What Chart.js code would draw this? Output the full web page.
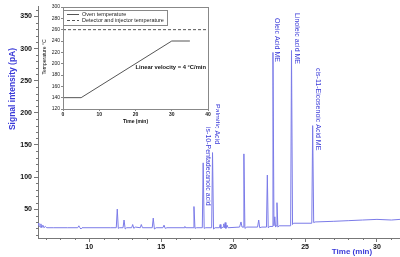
<!DOCTYPE html>
<html>
<head>
<meta charset="utf-8">
<script src="https://cdn.jsdelivr.net/npm/chart.js@4"></script>
<style>
  body { margin: 0; background: #fff; }
  #wrap { position: relative; width: 400px; height: 257px; }
  #mainChart { position: absolute; left: 0; top: 0; }
  #insetChart { position: absolute; left: 40px; top: 0; background: #fff; }
</style>
</head>
<body>
<div id="wrap">
  <canvas id="mainChart" width="400" height="257"></canvas>
  <canvas id="insetChart" width="176" height="127"></canvas>
</div>
<script>
// chromatogram (time in min, signal in pA)
const times = [6.44, 6.5, 6.58, 6.64, 6.7, 6.78, 6.85, 6.95, 7.05, 7.5, 8.5, 9.2, 9.28, 9.35, 9.42, 9.5,
  11.5, 11.88, 11.95, 12.02, 12.1, 12.35, 12.42, 12.5, 12.6, 12.95, 13.02, 13.1, 13.2, 13.55, 13.62, 13.7,
  14.38, 14.45, 14.53, 14.65, 15.12, 15.2, 15.28, 15.4, 16.6, 16.65, 16.7, 17.22, 17.28, 17.35, 17.45,
  17.86, 17.92, 17.99, 18.1, 18.51, 18.57, 18.64, 18.75, 19.05, 19.1, 19.15, 19.3, 19.35, 19.4, 19.45,
  19.5, 19.58, 19.65, 20.45, 20.55, 20.62, 20.69, 20.75, 20.82, 20.95, 21.7, 21.78, 21.85, 22.0, 22.32,
  22.38, 22.44, 22.55, 22.71, 22.77, 22.84, 22.9, 22.95, 23.0, 23.05, 23.11, 23.2, 24.0, 24.06, 24.13,
  24.2, 25.47, 25.53, 25.6, 25.7, 27.0, 28.0, 29.0, 30.0, 31.0, 31.6];
const signal = [28, 25, 22, 27, 21, 25, 21, 23, 21, 21, 21, 21, 24, 21, 19, 21,
  21, 21, 50, 20, 21, 21, 33, 19, 21, 21, 26, 20, 22, 21, 26, 21,
  21, 36, 19, 21, 21, 25, 20, 21, 21, 23, 21, 21, 54, 20, 21,
  21, 122, 20, 21, 21, 138, 19, 21, 21, 26, 20, 22, 27, 21, 29,
  20, 25, 21, 22, 30, 22, 22, 136, 20, 22, 22, 33, 21, 22, 22,
  103, 21, 23, 23, 294, 24, 38, 22, 24, 60, 22, 24, 24, 297, 26,
  28, 28, 180, 29, 30, 31, 32, 33, 34, 33, 34];
const xTicks = [10, 15, 20, 25, 30];
const yTicks = [50, 100, 150, 200, 250, 300, 350];
const peakNames = ['Cis-10-Pentadecanoic acid', 'Palmitic Acid', 'Oleic Acid ME', 'Linoleic acid ME', 'cis-11-Eicosenoic Acid ME'];
const peakTimes = [17.92, 18.57, 22.77, 24.06, 25.53];

// inset: temperature programme
const ovenTime = [0, 5, 30, 35];
const ovenTemp = [140, 140, 240, 240];
const detTime = [0, 40];
const detTemp = [260, 260];
const insetXTicks = [0, 10, 20, 30, 40];
const insetYTicks = [120, 140, 160, 180, 200, 220, 240, 260, 280, 300];

const FONT = 'Liberation Sans, Arial, sans-serif';
const BLUE = '#3a3ad8';

// where each peak label sits (pixel offset right of the peak, pixel top)
const labelPlace = [
  { dx: 5, top: 122 },
  { dx: 4, top: 104 },
  { dx: 4, top: 18 },
  { dx: 5, top: 13 },
  { dx: 5, top: 68 }
];

const mainDecor = {
  id: 'mainDecor',
  afterDraw(chart) {
    const ctx = chart.ctx;
    const xs = chart.scales.x, ys = chart.scales.y;
    const area = chart.chartArea;
    ctx.save();
    // minor ticks
    ctx.strokeStyle = '#777';
    ctx.lineWidth = 1;
    ctx.beginPath();
    for (let v = 10; v <= 360; v += 10) {
      if (v % 50 === 0) continue;
      const py = Math.round(ys.getPixelForValue(v)) + 0.5;
      ctx.moveTo(area.left - 2, py);
      ctx.lineTo(area.left, py);
    }
    for (let t = 7; t <= 31; t++) {
      if (t % 5 === 0) continue;
      const px = Math.round(xs.getPixelForValue(t)) + 0.5;
      ctx.moveTo(px, area.bottom);
      ctx.lineTo(px, area.bottom + 2);
    }
    ctx.stroke();

    // peak labels
    ctx.fillStyle = BLUE;
    ctx.font = '7px ' + FONT;
    ctx.textAlign = 'left';
    ctx.textBaseline = 'middle';
    peakNames.forEach((name, i) => {
      const px = xs.getPixelForValue(peakTimes[i]) + labelPlace[i].dx;
      ctx.save();
      ctx.translate(px, labelPlace[i].top);
      ctx.rotate(Math.PI / 2);
      ctx.fillText(name, 0, 0);
      ctx.restore();
    });

    // axis titles
    ctx.font = 'bold 8px ' + FONT;
    ctx.textAlign = 'center';
    ctx.fillText('Time (min)', 352, 252);
    ctx.save();
    ctx.translate(13, 89);
    ctx.rotate(-Math.PI / 2);
    ctx.font = 'bold 8.5px ' + FONT;
    ctx.fillText('Signal intensity (pA)', 0, 0);
    ctx.restore();
    ctx.restore();
  }
};

new Chart(document.getElementById('mainChart'), {
  type: 'line',
  data: {
    datasets: [{
      data: times.map((t, i) => ({ x: t, y: signal[i] })),
      borderColor: '#7b7be8',
      borderWidth: 1,
      pointRadius: 0,
      tension: 0
    }]
  },
  options: {
    responsive: false,
    animation: false,
    layout: { padding: 0 },
    plugins: { legend: { display: false }, tooltip: { enabled: false } },
    scales: {
      x: {
        type: 'linear',
        min: 6.44,
        max: 31.6,
        afterBuildTicks: (s) => { s.ticks = xTicks.map(v => ({ value: v })); },
        afterFit: (s) => { s.height = 19; },
        grid: { drawOnChartArea: false, tickLength: 4, color: '#777' },
        border: { color: '#777' },
        ticks: { font: { family: FONT, size: 7, weight: 'bold' }, color: '#111', padding: 1, maxRotation: 0 }
      },
      y: {
        min: 5,
        max: 366,
        afterBuildTicks: (s) => { s.ticks = yTicks.map(v => ({ value: v })); },
        afterFit: (s) => { s.width = 38; },
        grid: { drawOnChartArea: false, tickLength: 4, color: '#777' },
        border: { color: '#777' },
        ticks: { font: { family: FONT, size: 7, weight: 'bold' }, color: '#111', padding: 2 }
      }
    }
  },
  plugins: [mainDecor]
});

const insetDecor = {
  id: 'insetDecor',
  afterDraw(chart) {
    const ctx = chart.ctx;
    const a = chart.chartArea;
    const xs = chart.scales.x, ys = chart.scales.y;
    ctx.save();
    ctx.strokeStyle = '#888';
    ctx.lineWidth = 1;
    ctx.strokeRect(Math.round(a.left) + 0.5, Math.round(a.top) + 0.5, Math.round(a.right - a.left), Math.round(a.bottom - a.top));

    // legend box
    ctx.fillStyle = '#fff';
    ctx.fillRect(a.left + 1, 10, 103, 15);
    ctx.strokeRect(a.left + 0.5, 10.5, 104, 15);
    chart.data.datasets.forEach((ds, i) => {
      const y = 14.5 + i * 6;
      ctx.strokeStyle = ds.borderColor;
      ctx.setLineDash(ds.borderDash || []);
      ctx.beginPath();
      ctx.moveTo(a.left + 4, y);
      ctx.lineTo(a.left + 16, y);
      ctx.stroke();
      ctx.setLineDash([]);
      ctx.fillStyle = '#222';
      ctx.font = '5.5px ' + FONT;
      ctx.textAlign = 'left';
      ctx.textBaseline = 'middle';
      ctx.fillText(ds.label, a.left + 19, y);
    });

    ctx.fillStyle = '#111';
    ctx.font = 'bold 5.8px ' + FONT;
    ctx.textAlign = 'left';
    ctx.textBaseline = 'middle';
    ctx.fillText('Linear velocity = 4 \u00B0C/min', xs.getPixelForValue(20), ys.getPixelForValue(193));

    ctx.font = 'bold 5px ' + FONT;
    ctx.textAlign = 'center';
    ctx.fillText('Time (min)', (a.left + a.right) / 2, 122);
    ctx.save();
    ctx.translate(5, 57);
    ctx.rotate(-Math.PI / 2);
    ctx.font = '5px ' + FONT;
    ctx.fillText('Temperature \u00B0C', 0, 0);
    ctx.restore();
    ctx.restore();
  }
};

new Chart(document.getElementById('insetChart'), {
  type: 'line',
  data: {
    datasets: [
      {
        label: 'Oven temperature',
        data: ovenTime.map((t, i) => ({ x: t, y: ovenTemp[i] })),
        borderColor: '#555',
        borderWidth: 1,
        pointRadius: 0
      },
      {
        label: 'Detector and injector temperature',
        data: detTime.map((t, i) => ({ x: t, y: detTemp[i] })),
        borderColor: '#555',
        borderWidth: 1,
        borderDash: [3, 2],
        pointRadius: 0
      }
    ]
  },
  options: {
    responsive: false,
    animation: false,
    layout: { padding: { top: 7, right: 8, left: 0, bottom: 0 } },
    plugins: { legend: { display: false }, tooltip: { enabled: false } },
    scales: {
      x: {
        type: 'linear',
        min: 0,
        max: 40,
        afterBuildTicks: (s) => { s.ticks = insetXTicks.map(v => ({ value: v })); },
        afterFit: (s) => { s.height = 18; },
        grid: { drawOnChartArea: false, tickLength: 2, color: '#888' },
        border: { display: false },
        ticks: { font: { family: FONT, size: 5, weight: 'bold' }, color: '#222', padding: 1, maxRotation: 0 }
      },
      y: {
        min: 120,
        max: 300,
        afterBuildTicks: (s) => { s.ticks = insetYTicks.map(v => ({ value: v })); },
        afterFit: (s) => { s.width = 23; },
        grid: { drawOnChartArea: false, tickLength: 2, color: '#888' },
        border: { display: false },
        ticks: { font: { family: FONT, size: 5 }, color: '#222', padding: 1 }
      }
    }
  },
  plugins: [insetDecor]
});
</script>
</body>
</html>
